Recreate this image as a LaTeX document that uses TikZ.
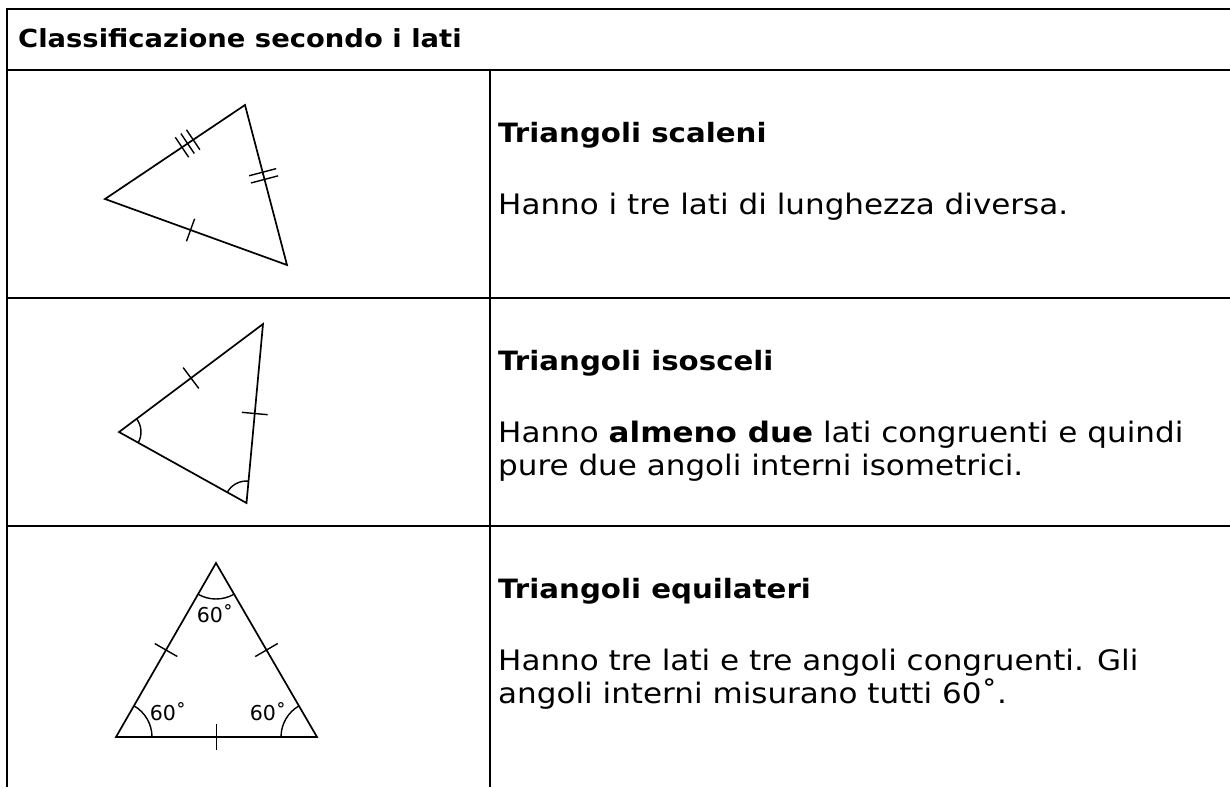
\documentclass[tikz,border=0pt]{standalone}
\usepackage{fontspec}
\setmainfont{DejaVu Sans}
\newfontfamily\widefont{DejaVu Sans}[FakeStretch=1.1]
\usetikzlibrary{calc,angles}
\begin{document}
\begin{tikzpicture}[x=1pt,y=-1pt,
  tbl/.style={line width=2pt},
  tri/.style={line width=1.7pt, line join=miter},
  mk/.style={line width=1.4pt},
  ang/.style={draw, line width=1.4pt},
  hdr/.style={anchor=base west, inner sep=0pt, font=\widefont\bfseries\fontsize{24.9}{30}\selectfont},
  ttl/.style={anchor=base west, inner sep=0pt, font=\widefont\bfseries\fontsize{26.6}{32}\selectfont},
  txt/.style={anchor=base west, inner sep=0pt, font=\widefont\fontsize{28.2}{33}\selectfont},
  deg/.style={inner sep=0pt, font=\fontsize{20.5}{22}\selectfont}]
\useasboundingbox (0,0) rectangle (1230,787);
% table
\draw[tbl] (7,787) -- (7,9) -- (1232,9);
\draw[tbl] (6,70) -- (1232,70);
\draw[tbl] (6,298) -- (1232,298);
\draw[tbl] (6,526) -- (1232,526);
\draw[tbl] (490,70) -- (490,787);
% texts
\node[hdr] (h) at (18,47) {Classificazione secondo i lati};
\node[ttl] (t1) at (498,142) {Triangoli scaleni};
\node[txt] (b1) at (498,214) {Hanno i tre lati di lunghezza diversa.};
\node[ttl] (t2) at (498,370) {Triangoli isosceli};
\node[txt] (b2a) at (498,442) {Hanno \textbf{almeno due} lati congruenti e quindi};
\node[txt] (b2b) at (498,475) {pure due angoli interni isometrici.};
\node[ttl] (t3) at (498,598) {Triangoli equilateri};
\node[txt] (b3a) at (498,670) {Hanno tre lati e tre angoli congruenti. Gli};
\node[txt] (b3b) at (498,703) {angoli interni misurano tutti 60˚.};
% scalene triangle
\coordinate (A) at (245,105);
\coordinate (B) at (105,199);
\coordinate (C) at (287,265);
\draw[tri] (A) -- (B) -- (C) -- cycle;
\foreach \t in {0.37,0.41,0.45}
  \draw[mk] ($(A)!\t!(B)!12pt!90:(B)$) -- ($(A)!\t!(B)!12pt!-90:(B)$);
\foreach \t in {0.42,0.465}
  \draw[mk] ($(A)!\t!(C)!14pt!90:(C)$) -- ($(A)!\t!(C)!14pt!-90:(C)$);
\draw[mk] ($(B)!0.47!(C)!12pt!90:(C)$) -- ($(B)!0.47!(C)!12pt!-90:(C)$);
% isosceles triangle
\coordinate (P) at (263,324);
\coordinate (Q) at (119,432);
\coordinate (R) at (246.5,503);
\draw[tri] (P) -- (Q) -- (R) -- cycle;
\draw[mk] ($(Q)!0.5!(P)!13pt!90:(P)$) -- ($(Q)!0.5!(P)!13pt!-90:(P)$);
\draw[mk] ($(P)!0.5!(R)!13pt!90:(R)$) -- ($(P)!0.5!(R)!13pt!-90:(R)$);
\pic[ang, angle radius=22pt] {angle = R--Q--P};
\pic[ang, angle radius=22pt] {angle = P--R--Q};
% equilateral triangle
\coordinate (T) at (216,563);
\coordinate (L) at (116,737);
\coordinate (S) at (317,737);
\draw[tri] (T) -- (L) -- (S) -- cycle;
\draw[mk] ($(L)!0.5!(T)!13pt!90:(T)$) -- ($(L)!0.5!(T)!13pt!-90:(T)$);
\draw[mk] ($(T)!0.5!(S)!13pt!90:(S)$) -- ($(T)!0.5!(S)!13pt!-90:(S)$);
\draw[mk] ($(L)!0.5!(S)!13pt!90:(S)$) -- ($(L)!0.5!(S)!13pt!-90:(S)$);
\pic[ang, angle radius=36pt] {angle = L--T--S};
\pic[ang, angle radius=36pt] {angle = S--L--T};
\pic[ang, angle radius=36pt] {angle = T--S--L};
\node[deg] (d1) at (215,614) {60˚};
\node[deg] (d2) at (168,712) {60˚};
\node[deg] (d3) at (268,712) {60˚};
\end{tikzpicture}
\end{document}
